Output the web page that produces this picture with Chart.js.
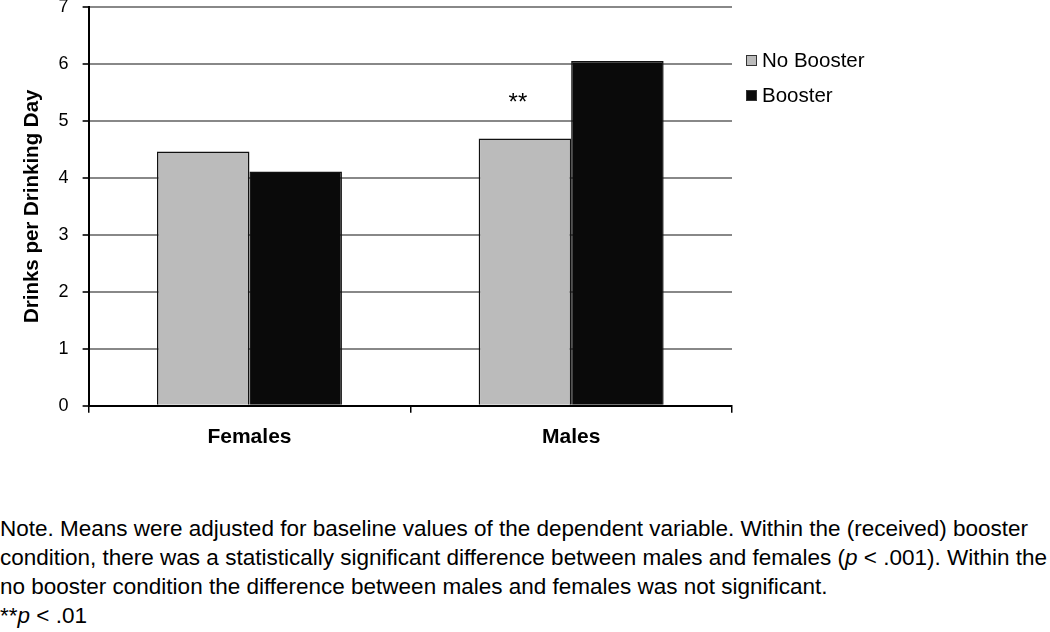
<!DOCTYPE html>
<html>
<head>
<meta charset="utf-8">
<script src="https://cdn.jsdelivr.net/npm/chart.js@4.4.0/dist/chart.umd.min.js"></script>
<style>
  body { margin: 0; background: #fff; }
  #wrap { position: relative; width: 1050px; height: 632px; overflow: hidden; }
  #chart { position: absolute; left: 0; top: -18px; }
  .legend { position: absolute; left: 746px; font-family: "Liberation Sans", Arial, sans-serif; font-size: 20.5px; color: #000; display: flex; align-items: center; }
  .legend span.box { display: inline-block; width: 9px; height: 9px; border: 1px solid #333; margin-right: 5px; }
  #note { position: absolute; left: 0; top: 514px; width: 1050px; font-family: "Liberation Sans", Arial, sans-serif; font-size: 22.5px; line-height: 29px; color: #000; white-space: nowrap; }
</style>
</head>
<body>
<div id="wrap">
  <canvas id="chart" width="1050" height="480"></canvas>
  <div id="legend"></div>
  <div id="note">Note. Means were adjusted for baseline values of the dependent variable. Within the (received) booster<br>condition, there was a statistically significant difference between males and females (<i>p</i> &lt; .001). Within the<br>no booster condition the difference between males and females was not significant.<br>**<i>p</i> &lt; .01</div>
</div>
<script>
// Data
const categories = ['Females', 'Males'];
const seriesNames = ['No Booster', 'Booster'];
const noBooster = [4.46, 4.69];
const booster = [4.11, 6.05];
const seriesColors = ['#bbbbbb', '#0a0a0a'];
const yTicks = [0, 1, 2, 3, 4, 5, 6, 7];

// significance marker: [category, value, text]
const sigMarks = [['Males', 5.4, '**']];

// Legend (html)
const legendEl = document.getElementById('legend');
seriesNames.forEach((name, i) => {
  const item = document.createElement('div');
  item.className = 'legend';
  item.style.top = (48 + i * 35) + 'px';
  item.innerHTML = `<span class="box" style="background:${seriesColors[i]}"></span>${name}`;
  legendEl.appendChild(item);
});

// draws ** above the bars
const sigPlugin = {
  id: 'sigPlugin',
  afterDatasetsDraw(chart) {
    const ctx = chart.ctx;
    const meta = chart.getDatasetMeta(0);
    ctx.save();
    ctx.font = '24px "Liberation Sans", Arial, sans-serif';
    ctx.fillStyle = '#000';
    ctx.textAlign = 'center';
    ctx.textBaseline = 'middle';
    sigMarks.forEach(([cat, val, txt]) => {
      const idx = categories.indexOf(cat);
      const x = meta.data[idx].x - 7;
      const y = chart.scales.y.getPixelForValue(val);
      ctx.fillText(txt, x, y + 5);
    });
    ctx.restore();
  }
};

new Chart(document.getElementById('chart').getContext('2d'), {
  type: 'bar',
  data: {
    labels: categories,
    datasets: [{
      label: seriesNames[0],
      data: noBooster,
      backgroundColor: seriesColors[0],
      borderColor: '#111',
      borderWidth: 1.5,
      borderSkipped: 'bottom'
    }, {
      label: seriesNames[1],
      data: booster,
      backgroundColor: seriesColors[1],
      borderColor: '#111',
      borderWidth: 1.5,
      borderSkipped: 'bottom'
    }]
  },
  options: {
    responsive: false,
    animation: false,
    layout: { padding: { left: 20, right: 318, top: 0, bottom: 0 } },
    plugins: {
      legend: { display: false },
      tooltip: { enabled: false }
    },
    datasets: {
      bar: { categoryPercentage: 0.575, barPercentage: 1 }
    },
    scales: {
      y: {
        min: 0,
        max: 7,
        afterBuildTicks: axis => { axis.ticks = yTicks.map(v => ({ value: v })); },
        ticks: {
          color: '#000',
          padding: 14,
          font: { family: '"Liberation Sans", Arial, sans-serif', size: 18 }
        },
        grid: { color: '#888', lineWidth: 2, tickLength: 6, tickColor: '#333' },
        border: { color: '#000', width: 2 },
        title: {
          display: true,
          text: 'Drinks per Drinking Day',
          color: '#000',
          padding: { top: 0, bottom: 0 },
          font: { family: '"Liberation Sans", Arial, sans-serif', size: 20.5, weight: 'bold' }
        }
      },
      x: {
        grid: { drawOnChartArea: false, drawTicks: true, tickLength: 7, color: '#000', lineWidth: 1.5 },
        border: { color: '#000', width: 2 },
        ticks: {
          color: '#000',
          padding: 12,
          font: { family: '"Liberation Sans", Arial, sans-serif', size: 21, weight: 'bold' }
        }
      }
    }
  },
  plugins: [sigPlugin]
});
</script>
</body>
</html>
